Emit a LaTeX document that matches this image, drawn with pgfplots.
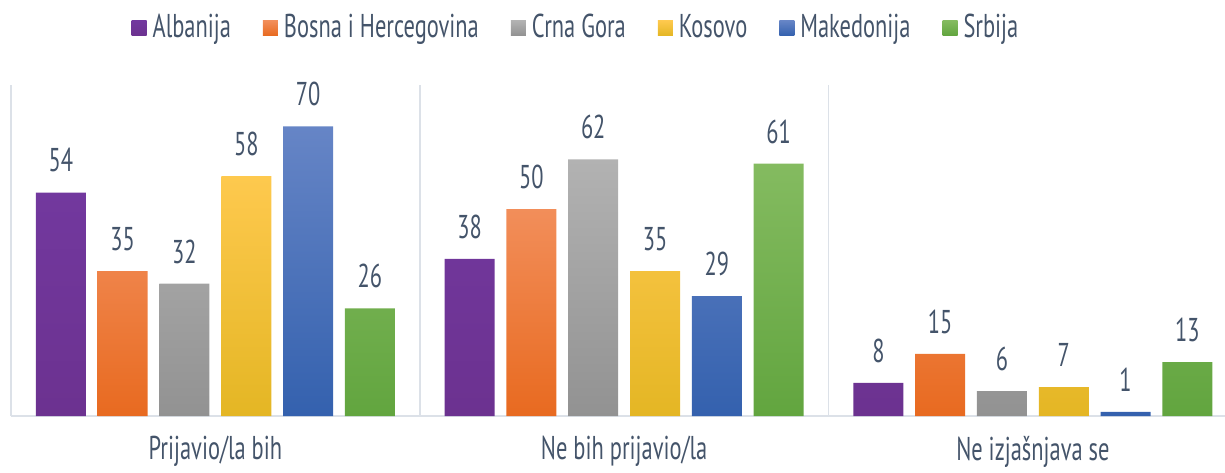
\documentclass[border=0pt]{standalone}
\usepackage{fontspec}
\setmainfont{PT Sans}[FakeStretch=0.68]
\usepackage{pgfplots}
\pgfplotsset{compat=1.18}
\definecolor{txt}{HTML}{44546A}
\definecolor{linec}{HTML}{DCE1E8}
\begin{document}
\fontsize{33}{38}\selectfont
\begin{tikzpicture}
\path[use as bounding box] (-11pt,-56pt) rectangle (1214pt,416pt);
\begin{axis}[
  at={(0,0)}, anchor=south west, scale only axis,
  width=1214pt, height=331pt,
  ymin=0, ymax=80, xmin=-0.5, xmax=2.47,
  ybar=11.8pt, bar width=50pt,
  axis y line=none, axis x line*=bottom,
  x axis line style={draw=linec, line width=1.5pt, -},
  xtick={0,1,2},
  xticklabels={Prijavio/la bih, Ne bih prijavio/la, Ne izjašnjava se},
  xtick style={draw=none},
  xticklabel style={text=txt, yshift=-5pt},
  /pgf/number format/assume math mode=true,
  nodes near coords,
  every node near coord/.append style={text=txt, yshift=9pt},
  legend columns=6,
  legend style={draw=none, fill=none, text=txt, at={(0.4654,1.172)}, anchor=center,
    /tikz/every even column/.append style={column sep=30pt}},
  legend image code/.code={\path[#1, draw=none] (0pt,-7.5pt) rectangle (15pt,7.5pt); \path (19pt,0pt);},
  clip=false,
]
\addplot[draw=none, top color={rgb,255:red,114;green,56;blue,158}, bottom color={rgb,255:red,108;green,50;blue,144}]
  coordinates {(0,54) (1,38) (2,8)};
\addlegendentry{Albanija}
\addplot[draw=none, top color={rgb,255:red,242;green,142;blue,90}, bottom color={rgb,255:red,232;green,106;blue,32}]
  coordinates {(0,35) (1,50) (2,15)};
\addlegendentry{Bosna i Hercegovina}
\addplot[draw=none, top color={rgb,255:red,178;green,178;blue,178}, bottom color={rgb,255:red,146;green,146;blue,146}]
  coordinates {(0,32) (1,62) (2,6)};
\addlegendentry{Crna Gora}
\addplot[draw=none, top color={rgb,255:red,254;green,201;blue,78}, middle color={rgb,255:red,254;green,196;blue,16}, bottom color={rgb,255:red,228;green,182;blue,36}]
  coordinates {(0,58) (1,35) (2,7)};
\addlegendentry{Kosovo}
\addplot[draw=none, top color={rgb,255:red,102;green,133;blue,198}, bottom color={rgb,255:red,52;green,97;blue,174}]
  coordinates {(0,70) (1,29) (2,1)};
\addlegendentry{Makedonija}
\addplot[draw=none, top color={rgb,255:red,132;green,187;blue,96}, bottom color={rgb,255:red,98;green,165;blue,63}]
  coordinates {(0,26) (1,61) (2,13)};
\addlegendentry{Srbija}
\draw[linec, line width=1.5pt] (axis cs:-0.5,0) -- (axis cs:-0.5,80);
\draw[linec, line width=1.5pt] (axis cs:0.5,0) -- (axis cs:0.5,80);
\draw[linec, line width=1.5pt] (axis cs:1.5,0) -- (axis cs:1.5,80);
\end{axis}
\end{tikzpicture}
\end{document}
